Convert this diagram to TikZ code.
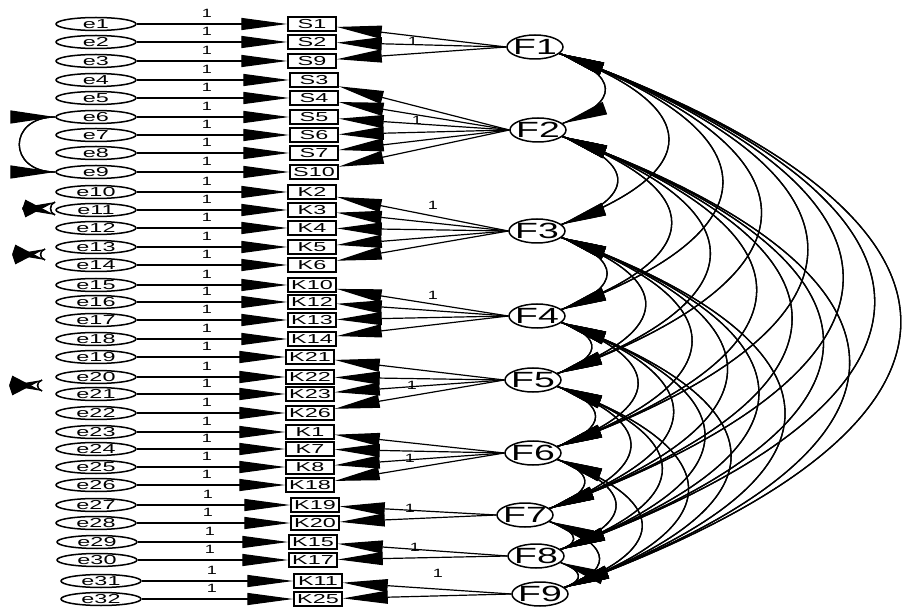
\documentclass[tikz,border=0pt]{standalone}
\usepackage{graphicx}
\usepackage{fontspec}
\setmainfont{Liberation Sans}
\usetikzlibrary{arrows.meta,decorations.markings,calc,shapes.geometric}
\newcommand{\sxe}[1]{\scalebox{1.8}[1]{#1}}
\newcommand{\sxf}[1]{\scalebox{1.7}[1]{#1}}
\newcommand{\sxo}[1]{\scalebox{1.5}[1]{#1}}
% draw a two-headed curve from both ends so that each end gets its head at position 0
\newcommand{\twohead}[5]{%
  \draw[#1] (#2) .. controls (#4) and (#5) .. (#3);
  \draw[#1] (#3) .. controls (#5) and (#4) .. (#2);}
\tikzset{
  efont/.style={font=\fontsize{13}{13}\selectfont, inner sep=0pt},
  ffont/.style={font=\fontsize{22}{22}\selectfont, inner sep=0pt},
  evar/.style={ellipse, draw, line width=1.5pt, minimum width=80pt, minimum height=13pt, inner sep=0pt, label={[efont]center:\sxe{#1}}},
  obs/.style={rectangle, draw, line width=1.5pt, minimum width=48pt, minimum height=14pt, inner sep=0pt, label={[efont]center:\sxe{#1}}},
  lat/.style={ellipse, draw, line width=1.5pt, minimum width=56pt, minimum height=24pt, inner sep=0pt, label={[ffont]center:\sxf{#1}}},
  one/.style={font=\fontsize{12}{12}\selectfont, inner sep=0pt},
  path1/.style={line width=1.2pt, -{Triangle[length=46pt,width=12pt]}},
  load/.style={line width=1.2pt, -{Triangle[length=45pt,width=13pt]}},
  cov0/.style={line width=1.3pt, postaction={decorate}, decoration={markings,
     mark=at position 0 with {\arrowreversed{Triangle[length=45pt,width=13pt]}}}},
  covs0/.style={line width=1.3pt, postaction={decorate}, decoration={markings,
     mark=at position 0 with {\arrowreversed{Triangle[length=33pt,width=10pt]}}}},
}
\begin{document}
\begin{tikzpicture}[x=1pt,y=-1pt]
\useasboundingbox (0,0) rectangle (908,612);
% indicators, errors
\foreach \n/\yy/\ex/\bx/\ox/\lab in {
 1/24/96/312/207/S1, 2/42/96/312/207/S2, 3/61/96/312/207/S9,
 4/80/96/314/207/S3, 5/98/96/314/207/S4, 6/117/96/314/207/S5, 7/135/96/314/207/S6, 8/153/96/314/207/S7, 9/172/96/314/207/S10,
 10/192/96/312/207/K2, 11/210/96/312/207/K3, 12/228/96/312/207/K4, 13/247/96/312/207/K5, 14/265/96/312/207/K6,
 15/285/96/312/207/K10, 16/302/96/312/207/K12, 17/320/96/312/207/K13, 18/339/96/312/207/K14,
 19/357/96/310/207/K21, 20/377/96/310/207/K22, 21/394/96/310/207/K23, 22/413/96/310/207/K26,
 23/432/96/310/207/K1, 24/449/96/310/207/K7, 25/467/96/310/207/K8, 26/485/96/310/207/K18,
 27/505/96/315/208/K19, 28/523/96/315/208/K20, 29/542/97/313/210/K15, 30/560/97/313/210/K17,
 31/581/101/318/212/K11, 32/599/101/318/212/K25} {
  \node[evar=e\n] (e\n) at (\ex,\yy) {};
  \node[obs=\lab] (b\n) at (\bx,\yy) {};
  \draw[path1] (e\n) -- (b\n);
  \node[one] (o\n) at ({\ox},{\yy-11}) {\sxo{1}};
}
% latent factors
\node[lat=F1] (F1) at (535,47) {};
\node[lat=F2] (F2) at (538,130) {};
\node[lat=F3] (F3) at (537,231) {};
\node[lat=F4] (F4) at (537,316) {};
\node[lat=F5] (F5) at (533,380) {};
\node[lat=F6] (F6) at (533,453) {};
\node[lat=F7] (F7) at (525,515) {};
\node[lat=F8] (F8) at (536,556) {};
\node[lat=F9] (F9) at (540,594) {};
% loadings
\foreach \f/\bs in {1/{1,2,3}, 2/{4,5,6,7,8,9}, 3/{10,11,12,13,14}, 4/{15,16,17,18},
   5/{19,20,21,22}, 6/{23,24,25,26}, 7/{27,28}, 8/{29,30}, 9/{31,32}} {
  \foreach \b in \bs { \draw[load] (F\f.west) -- (b\b); }
}
\foreach \f/\lx/\ly in {1/413/41, 2/417/120, 3/433/205, 4/433/295, 5/412/385, 6/410/458, 7/410/508, 8/415/547, 9/438/573} {
  \node[one] (l\f) at (\lx,\ly) {\sxo{1}};
}
% factor covariances
\foreach \i in {1,...,8} {
  \pgfmathtruncatemacro{\ip}{\i+1}
  \foreach \j in {\ip,...,9} {
    \path let \p1=(F\i.-15), \p2=(F\j.15), \n1={0.9*(\y1-\y2)} in
      coordinate (ca) at ({\x1+0.94*\n1*1pt},{\y1-0.34*\n1*1pt})
      coordinate (cb) at ({\x2+0.94*\n1*1pt},{\y2+0.34*\n1*1pt});
    \twohead{cov0}{F\i.-15}{F\j.15}{ca}{cb}
  }
}
% error covariances
\coordinate (c6) at ($(e6.west)+(-48,0)$);
\coordinate (c9) at ($(e9.west)+(-48,0)$);
\twohead{cov0}{e6.west}{e9.west}{c6}{c9}
\coordinate (q1a) at (55,202); \coordinate (q1b) at (55,215);
\coordinate (q2a) at (45,249); \coordinate (q2b) at (45,260);
\coordinate (q3a) at (42,380); \coordinate (q3b) at (42,391);
\foreach \q in {1,2,3} {
  \coordinate (k\q a) at ($(q\q a)+(-6,2)$);
  \coordinate (k\q b) at ($(q\q b)+(-6,-2)$);
  \twohead{covs0}{q\q a}{q\q b}{k\q a}{k\q b}
}
\end{tikzpicture}
\end{document}
